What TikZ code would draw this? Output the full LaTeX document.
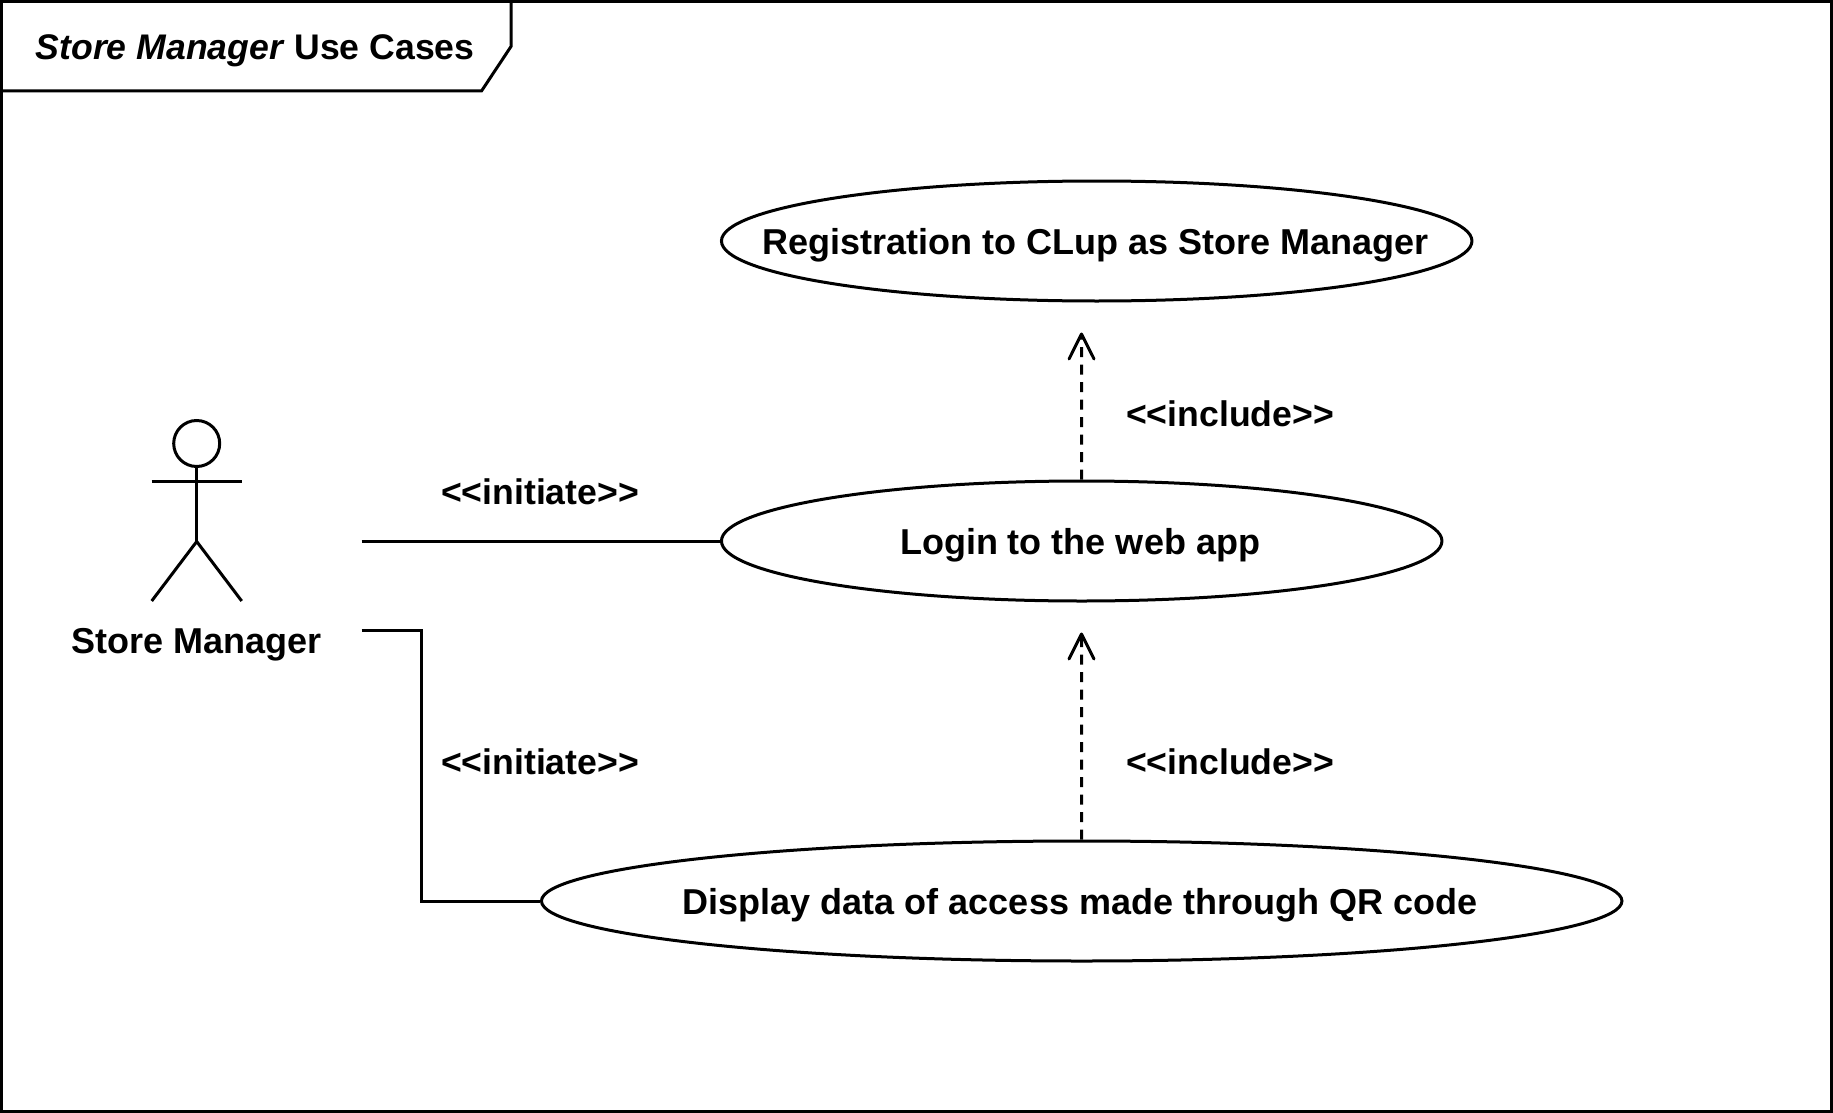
\documentclass[tikz,border=0pt]{standalone}
\usepackage{fontspec}
\setmainfont{Liberation Sans}
\usetikzlibrary{shapes.geometric,arrows.meta}
\tikzset{
  uml/.style={line width=3pt,draw=black},
  usecase/.style={uml,ellipse,inner sep=0pt,minimum height=120pt,fill=white},
  lbl/.style={inner sep=0pt,font=\fontsize{36}{42}\selectfont\bfseries},
  stereo/.style={inner sep=0pt,font=\fontsize{35.6}{42}\selectfont\bfseries},
  assoc/.style={uml,line join=miter},
  incl/.style={uml,dash pattern=on 10pt off 7.5pt,-{Straight Barb[length=25pt,width=25pt,line width=3pt,round]}}
}
\begin{document}
\begin{tikzpicture}[x=1pt,y=-1pt]
\useasboundingbox (0,0) rectangle (1833,1113);
\fill[white] (0,0) rectangle (1833,1113);
% frame
\draw[uml] (1.5,1.5) rectangle (1831.5,1111.5);
\draw[uml] (511,1.5) -- (511,46.5) -- (481.5,91) -- (1.5,91);
\node[stereo,anchor=west] (title) at (35.5,51) {\textit{Store Manager} Use Cases};
% actor
\node[uml,circle,minimum size=46pt,inner sep=0pt] (head) at (196.7,443.5) {};
\coordinate (hip) at (196.7,541.5);
\coordinate (armL) at (151.7,481);
\coordinate (armR) at (241.7,481);
\coordinate (legL) at (151.7,601);
\coordinate (legR) at (241.7,601);
\draw[uml] (head.south) -- (hip);
\draw[uml] (armL) -- (armR);
\draw[uml,line join=miter] (legL) -- (hip) -- (legR);
\node[lbl] (actor) at (196.7,645) {Store Manager};
% use cases
\node[usecase,minimum width=750.5pt] (reg) at (1096.7,241) {};
\node[lbl] (regt) at (1095.5,245) {Registration to CLup as Store Manager};
\node[usecase,minimum width=720.5pt] (login) at (1081.7,541) {};
\node[lbl] (logint) at (1080,545) {Login to the web app};
\node[usecase,minimum width=1080.5pt] (disp) at (1081.7,901) {};
\node[lbl] (dispt) at (1080,905) {Display data of access made through QR code};
% connectors
\coordinate (actA) at (361.7,541);
\coordinate (actB) at (361.7,630.7);
\coordinate (bend1) at (421.7,630.7);
\coordinate (bend2) at (421.7,901);
\coordinate (tipA) at (1081.5,332.5);
\coordinate (tipB) at (1081.5,632.5);
\draw[assoc] (actA) -- (login.west);
\draw[assoc] (actB) -- (bend1) -- (bend2) -- (disp.west);
\draw[incl] (login.north) -- (tipA);
\draw[incl] (disp.north) -- (tipB);
% labels
\node[stereo] (i1) at (540,491.5) {<{}<initiate>{}>};
\node[stereo] (i2) at (540,761.5) {<{}<initiate>{}>};
\node[stereo] (c1) at (1230,414) {<{}<include>{}>};
\node[stereo] (c2) at (1230,761.5) {<{}<include>{}>};
\end{tikzpicture}
\end{document}
